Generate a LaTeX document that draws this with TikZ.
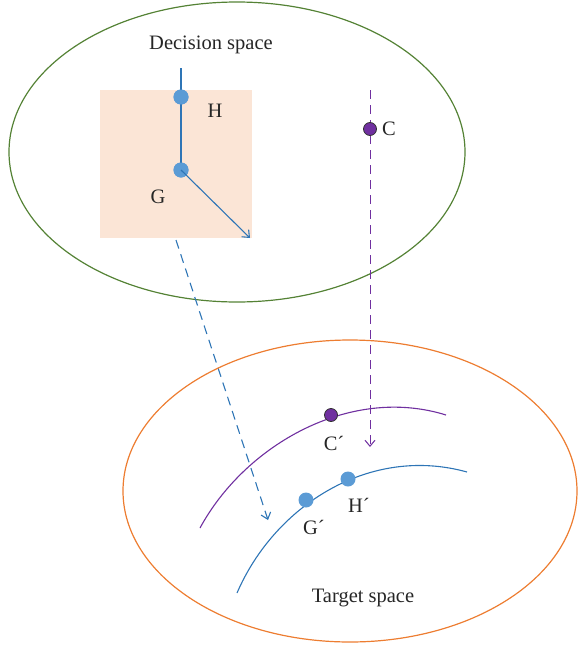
\documentclass[tikz,border=0pt]{standalone}
\usepackage{fontspec}
\setmainfont{Liberation Serif}
\usetikzlibrary{arrows.meta}
\definecolor{gr}{HTML}{548235}
\definecolor{orn}{HTML}{ED7D31}
\definecolor{pur}{HTML}{7030A0}
\definecolor{bl}{HTML}{2E75B6}
\definecolor{bld}{HTML}{5B9BD5}
\definecolor{peach}{HTML}{FBE5D6}
\tikzset{
  lbl/.style={font=\fontsize{20.5}{22}\selectfont, text=black!85, inner sep=0pt},
  bdot/.style={circle, fill=bld, minimum size=15pt, inner sep=0pt},
  pdot/.style={circle, fill=pur, draw=black!80, line width=0.8pt, minimum size=13pt, inner sep=0pt},
  tip/.style={-{Straight Barb[length=6pt,width=10pt]}},
  dsh/.style={dash pattern=on 9pt off 6pt},
}
\begin{document}
\begin{tikzpicture}[x=1pt,y=-1pt]
\useasboundingbox (0,0) rectangle (578,648);
% decision space
\draw[gr, line width=1.2pt] (237,152) ellipse [x radius=228, y radius=150];
\node[lbl] (ds) at (211,45) {Decision space};
\fill[peach] (100,90) rectangle (252,238);
\coordinate (top) at (181,68);
\node[bdot] (H) at (181,97) {};
\node[bdot] (G) at (181,170) {};
\coordinate (gend) at (250,238);
\draw[bl, line width=1.6pt] (top) -- (G.center);
\node[bdot] at (181,97) {};
\node[bdot] at (181,170) {};
\draw[bl, line width=1.1pt, tip] (G.center) -- (gend);
\node[lbl] (Hl) at (215,111) {H};
\node[lbl] (Gl) at (158,197) {G};
% C
\coordinate (cs) at (370,90);
\coordinate (ce) at (370,447);
\draw[pur, line width=1pt, dsh, tip] (cs) -- (ce);
\node[pdot] (C) at (370,129) {};
\node[lbl] (Cl) at (389,129) {C};
% blue dashed mapping
\coordinate (bs) at (176,240);
\coordinate (be) at (268,520);
\draw[bl, line width=1.1pt, dsh, tip] (bs) -- (be);
% target space
\draw[orn, line width=1.2pt] (350,491) ellipse [x radius=227, y radius=151];
\node[lbl] (ts) at (363,598) {Target space};
\draw[pur, line width=1.1pt] (200,528) .. controls (245,445) and (350,385) .. (446,415);
\draw[bl, line width=1.1pt] (237,593) .. controls (275,505) and (370,445) .. (467,472);
\node[pdot] (Cp) at (331,415) {};
\node[lbl] (Cpl) at (334,443) {C´};
\node[bdot] (Gp) at (306,500) {};
\node[bdot] (Hp) at (348,479) {};
\node[lbl] (Gpl) at (314,527) {G´};
\node[lbl] (Hpl) at (359,505) {H´};
\end{tikzpicture}
\end{document}
